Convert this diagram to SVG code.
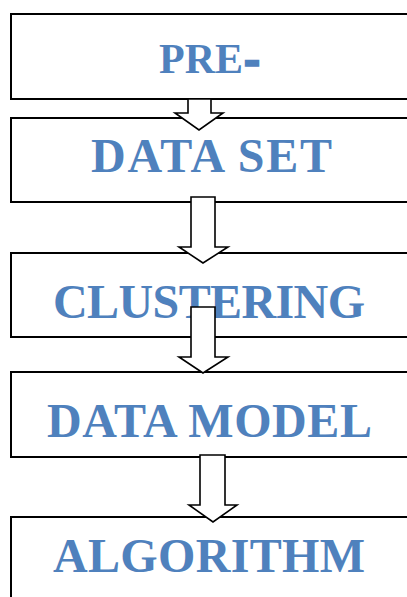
<svg xmlns="http://www.w3.org/2000/svg" width="407" height="597" viewBox="0 0 407 597">
<style>
.box{fill:#fff;stroke:#000;stroke-width:2}
.lbl{font-family:"Liberation Serif","Times New Roman",serif;font-weight:bold;fill:#4F81BD;font-size:48px}
.arr{fill:#fff;stroke:#000;stroke-width:1.6;stroke-linejoin:miter}
</style>
<rect width="407" height="597" fill="#fff"/>
<g id="n1"><rect class="box" x="11" y="14" width="410" height="85"/><text class="lbl" x="159" y="73" style="font-size:42px">PRE<tspan x="245" style="stroke:#4F81BD;stroke-width:3.5" textLength="14" lengthAdjust="spacingAndGlyphs">-</tspan></text></g>
<g id="n2"><rect class="box" x="11" y="118" width="410" height="84"/><text class="lbl" x="91" y="172" textLength="241">DATA SET</text></g>
<g id="n3"><rect class="box" x="11" y="253" width="410" height="84"/><text class="lbl" x="53" y="318" textLength="312">CLUSTERING</text></g>
<g id="n4"><rect class="box" x="11" y="372" width="410" height="85"/><text class="lbl" x="47" y="437" textLength="325">DATA MODEL</text></g>
<g id="n5"><rect class="box" x="11" y="517" width="410" height="90"/><text class="lbl" x="53" y="572" textLength="312">ALGORITHM</text></g>
<g id="connectors">
<path class="arr" d="M188,99 V113 H175 L199,130 L223,113 H211 V99 Z"/>
<path class="arr" d="M191,197 V247 H179 L203,263 L228,247 H215 V197 Z"/>
<path class="arr" d="M191,307 V357 H179 L203,373 L228,357 H215 V307 Z"/>
<path class="arr" d="M200,455 V505 H189 L213,522 L237,505 H225 V455 Z"/>
</g>
</svg>
